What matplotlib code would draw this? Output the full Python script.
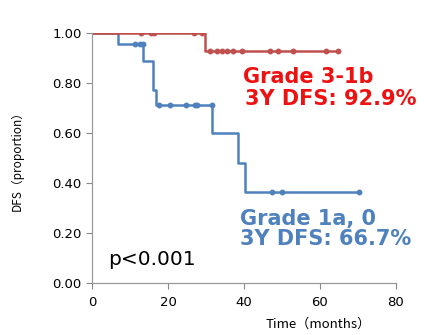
import matplotlib
matplotlib.use("Agg")
import matplotlib.pyplot as plt

plt.rcParams['font.family'] = ['DejaVu Sans']
CJK = ['Noto Sans CJK JP', 'DejaVu Sans']

# Red group (Grade 3-1b)
red_step_t = [0, 29.7, 64.8]
red_step_s = [1.0, 0.929, 0.929]
red_cens_t = [12.9, 15.5, 16.3, 26.8, 28.9, 31.1, 32.8, 34.1, 35.4, 37.2, 39.4, 46.8, 49.0, 52.9, 61.7, 64.8]
red_cens_s = [1.0, 1.0, 1.0, 1.0, 1.0, 0.929, 0.929, 0.929, 0.929, 0.929, 0.929, 0.929, 0.929, 0.929, 0.929, 0.929]

# Blue group (Grade 1a, 0)
blue_step_t = [0, 6.8, 13.5, 16.0, 16.8, 31.6, 38.5, 40.3, 70.3]
blue_step_s = [1.0, 0.955, 0.889, 0.772, 0.712, 0.599, 0.479, 0.365, 0.365]
blue_cens_t = [11.3, 12.6, 13.3, 17.6, 20.5, 24.7, 27.1, 27.7, 31.6, 47.3, 49.9, 70.3]
blue_cens_s = [0.955, 0.955, 0.955, 0.712, 0.712, 0.712, 0.712, 0.712, 0.712, 0.365, 0.365, 0.365]

x_ticks = [0, 20, 40, 60, 80]
y_ticks = [0.0, 0.2, 0.4, 0.6, 0.8, 1.0]

red_line = '#C0504D'
blue_line = '#4F81BD'

fig = plt.figure(figsize=(4.24, 3.35), dpi=100)
ax = fig.add_axes([92/424, 1 - 283/335, (396 - 92)/424, (283 - 33)/335])

ax.step(blue_step_t, blue_step_s, where='post', color=blue_line, lw=1.8)
ax.plot(blue_cens_t, blue_cens_s, 'o', color=blue_line, ms=3.2, ls='none')
ax.step(red_step_t, red_step_s, where='post', color=red_line, lw=1.8)
ax.plot(red_cens_t, red_cens_s, 'o', color=red_line, ms=3.2, ls='none')

ax.set_xlim(0, 80)
ax.set_ylim(0, 1.0)
ax.set_xticks(x_ticks)
ax.set_yticks(y_ticks)
ax.set_yticklabels([f'{v:.2f}' for v in y_ticks])
ax.tick_params(axis='both', labelsize=9.5, colors='#888888', labelcolor='black',
               length=4, width=0.8, direction='out')
ax.tick_params(axis='x', pad=5)
for s in ['top', 'right']:
    ax.spines[s].set_visible(False)
for s in ['left', 'bottom']:
    ax.spines[s].set_color('#999999')
    ax.spines[s].set_linewidth(0.9)

ax.set_ylabel('DFS（proportion）', fontsize=8.5, family=CJK)
ax.yaxis.set_label_coords(-0.225, 0.5)
ax.set_xlabel('Time（months）', fontsize=9.5, family=CJK)
ax.xaxis.set_label_coords(0.745, -0.14)

ax.text(39.7, 0.80, 'Grade 3-1b', color='#EE1111', fontsize=15, fontweight='bold', va='baseline')
ax.text(40.2, 0.712, '3Y DFS: 92.9%', color='#EE1111', fontsize=15, fontweight='bold', va='baseline')
ax.text(38.9, 0.232, 'Grade 1a, 0', color='#4F81BD', fontsize=15, fontweight='bold', va='baseline')
ax.text(38.9, 0.152, '3Y DFS: 66.7%', color='#4F81BD', fontsize=15, fontweight='bold', va='baseline')
ax.text(4.2, 0.072, 'p<0.001', color='black', fontsize=14.5, va='baseline')

fig.savefig('out.png', dpi=100)
